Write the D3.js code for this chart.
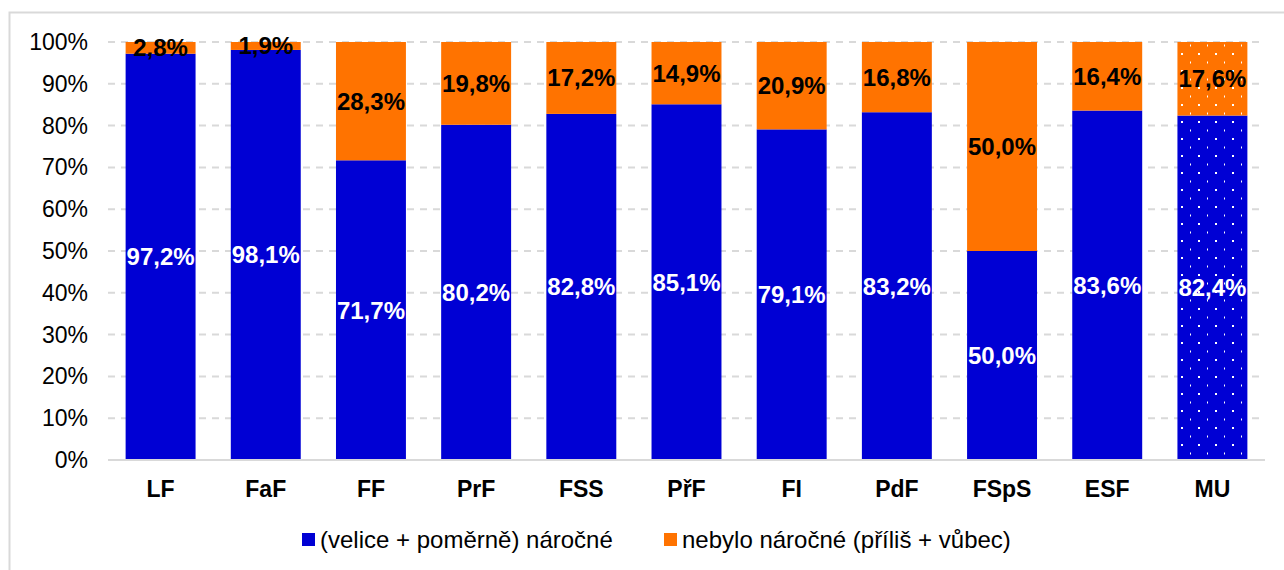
<!DOCTYPE html>
<html lang="cs">
<head>
<meta charset="UTF-8">
<title>Náročnost</title>
<script src="https://cdnjs.cloudflare.com/ajax/libs/d3/7.8.5/d3.min.js"></script>
<style>
  body { margin: 0; background: #fff; }
  svg { display: block; font-family: "Liberation Sans", Arial, sans-serif; }
  .grid line { stroke: #d9d9d9; stroke-width: 2; stroke-dasharray: 7 6; }
  .tick-y { font-size: 23px; fill: #000; }
  .tick-x { font-size: 23px; font-weight: bold; fill: #000; }
  .val { font-size: 24px; font-weight: bold; }
  .legend text { font-size: 24px; fill: #000; }
</style>
</head>
<body>
<div id="chart"></div>
<script>
var faculties = ["LF", "FaF", "FF", "PrF", "FSS", "PřF", "FI", "PdF", "FSpS", "ESF", "MU"];
var demanding = [97.2, 98.1, 71.7, 80.2, 82.8, 85.1, 79.1, 83.2, 50.0, 83.6, 82.4];
var notDemanding = [2.8, 1.9, 28.3, 19.8, 17.2, 14.9, 20.9, 16.8, 50.0, 16.4, 17.6];
var yTicks = [0, 10, 20, 30, 40, 50, 60, 70, 80, 90, 100];
var seriesNames = ["(velice + poměrně) náročné", "nebylo náročné (příliš + vůbec)"];
var colors = ["#0000d4", "#ff7300"];

var W = 1284, H = 570;
var svg = d3.select("#chart").append("svg").attr("width", W).attr("height", H);

// pattern for the MU (total) bar
var defs = svg.append("defs");
colors.forEach(function(c, i) {
  var p = defs.append("pattern")
    .attr("id", "dots" + i)
    .attr("patternUnits", "userSpaceOnUse")
    .attr("width", 17).attr("height", 17);
  p.append("rect").attr("width", 17).attr("height", 17).attr("fill", c);
  p.append("rect").attr("x", 8).attr("y", 2).attr("width", 2).attr("height", 2).attr("fill", "#fff");
  p.append("rect").attr("x", 0).attr("y", 10.5).attr("width", 1).attr("height", 2).attr("fill", "#fff");
});

// outer frame
svg.append("rect")
  .attr("x", 9.5).attr("y", 12.5)
  .attr("width", W + 10).attr("height", H + 10)
  .attr("fill", "none").attr("stroke", "#d9d9d9").attr("stroke-width", 2);

var x = d3.scaleBand().domain(faculties).range([108, 1265]).paddingInner(0.335).paddingOuter(0.1675);
var y = d3.scaleLinear().domain([0, 100]).range([460, 42]);

// grid
svg.append("g").attr("class", "grid")
  .selectAll("line").data(yTicks.filter(function(d) { return d > 0; }))
  .enter().append("line")
  .attr("x1", 108).attr("x2", 1265)
  .attr("y1", function(d) { return y(d); }).attr("y2", function(d) { return y(d); });

// y labels
svg.append("g").selectAll("text").data(yTicks).enter().append("text")
  .attr("class", "tick-y")
  .attr("x", 88).attr("y", function(d) { return y(d); })
  .attr("dy", "0.35em").attr("text-anchor", "end")
  .text(function(d) { return d + "%"; });

var fmt = function(v) { return v.toFixed(1).replace(".", ",") + "%"; };

var rows = faculties.map(function(f, i) {
  return { name: f, a: demanding[i], b: notDemanding[i], total: f === "MU" };
});

var g = svg.append("g").selectAll("g").data(rows).enter().append("g");

g.append("rect")
  .attr("x", function(d) { return x(d.name); })
  .attr("width", x.bandwidth())
  .attr("y", function(d) { return y(d.a); })
  .attr("height", function(d) { return y(0) - y(d.a); })
  .attr("fill", function(d) { return d.total ? "url(#dots0)" : colors[0]; });

g.append("rect")
  .attr("x", function(d) { return x(d.name); })
  .attr("width", x.bandwidth())
  .attr("y", function(d) { return y(d.a + d.b); })
  .attr("height", function(d) { return y(d.a) - y(d.a + d.b); })
  .attr("fill", function(d) { return d.total ? "url(#dots1)" : colors[1]; });

// baseline
svg.append("line")
  .attr("x1", 108).attr("x2", 1265).attr("y1", y(0)).attr("y2", y(0))
  .attr("stroke", "#d9d9d9").attr("stroke-width", 2);

// value labels
g.append("text").attr("class", "val")
  .attr("x", function(d) { return x(d.name) + x.bandwidth() / 2; })
  .attr("y", function(d) { return (y(0) + y(d.a)) / 2; })
  .attr("dy", "0.35em").attr("text-anchor", "middle").attr("fill", "#fff")
  .text(function(d) { return fmt(d.a); });

g.append("text").attr("class", "val")
  .attr("x", function(d) { return x(d.name) + x.bandwidth() / 2; })
  .attr("y", function(d) { return (y(d.a) + y(d.a + d.b)) / 2; })
  .attr("dy", "0.35em").attr("text-anchor", "middle").attr("fill", "#000")
  .text(function(d) { return fmt(d.b); });

// category labels
g.append("text").attr("class", "tick-x")
  .attr("x", function(d) { return x(d.name) + x.bandwidth() / 2; })
  .attr("y", 489).attr("dy", "0.35em").attr("text-anchor", "middle")
  .text(function(d) { return d.name; });

// legend
var legend = svg.append("g").attr("class", "legend");
var legX = [302, 664];
seriesNames.forEach(function(s, i) {
  legend.append("rect").attr("x", legX[i]).attr("y", 533).attr("width", 13).attr("height", 13).attr("fill", colors[i]);
  legend.append("text").attr("x", legX[i] + 18).attr("y", 540).attr("dy", "0.35em").text(s);
});
</script>
</body>
</html>
